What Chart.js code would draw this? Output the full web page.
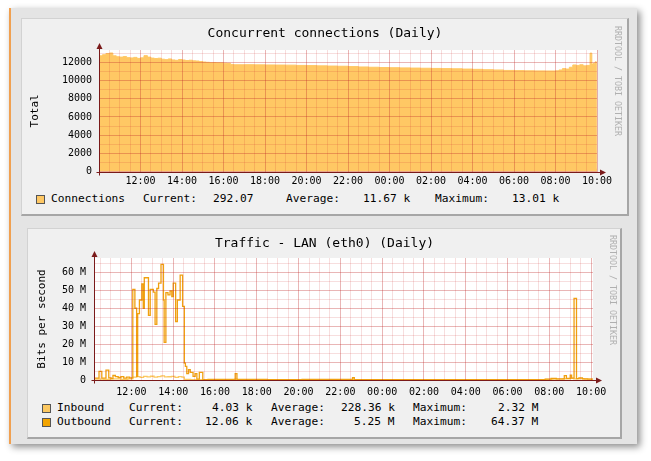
<!DOCTYPE html>
<html>
<head>
<meta charset="utf-8">
<title>Daily graphs</title>
<script src="https://cdn.jsdelivr.net/npm/chart.js@4.4.0/dist/chart.umd.min.js"></script>
<style>
body { margin:0; background:#fff; width:651px; height:461px; position:relative; overflow:hidden; font-family:'DejaVu Sans Mono', monospace; }
#frame { position:absolute; left:9px; top:8px; width:626px; height:436px; background:#e4e4e4; border-left:2px solid #f0a050; box-shadow:3px 3px 7px rgba(0,0,0,0.45); }
.panel { position:absolute; background:#f0f0f0; box-sizing:border-box; border-top:1px solid #d2d2d2; border-left:1px solid #d2d2d2; border-right:2px solid #a6a6a6; border-bottom:2px solid #a6a6a6; }
canvas { position:absolute; }
.lg { position:absolute; font-size:11.2px; line-height:14px; white-space:pre; color:#000; }
.sw { position:absolute; width:9px; height:9px; border:1px solid #555; box-sizing:border-box; }
.credit { position:absolute; writing-mode:vertical-rl; font-size:8.3px; color:#b0b0b0; white-space:nowrap; }
</style>
</head>
<body>
<div id="frame"></div>

<div class="panel" style="left:21px; top:18px; width:608px; height:198px;"></div>
<canvas id="connChart" width="608" height="170" style="left:21px; top:18px;"></canvas>
<div class="credit" style="left:613px; top:26px;">RRDTOOL / TOBI OETIKER</div>
<div class="sw" style="left:36px; top:195px; background:#ffc864;"></div>
<div class="lg" style="left:51px; top:192px;">Connections</div>
<div class="lg" style="left:143px; top:192px;">Current:</div>
<div class="lg" style="left:213px; top:192px;">292.07</div>
<div class="lg" style="left:286px; top:192px;">Average:</div>
<div class="lg" style="left:363px; top:192px;">11.67 k</div>
<div class="lg" style="left:435px; top:192px;">Maximum:</div>
<div class="lg" style="left:512px; top:192px;">13.01 k</div>

<div class="panel" style="left:27px; top:228px; width:595px; height:211px;"></div>
<canvas id="trafChart" width="595" height="170" style="left:27px; top:228px;"></canvas>
<div class="credit" style="left:608px; top:235px;">RRDTOOL / TOBI OETIKER</div>
<div class="sw" style="left:42px; top:404px; background:#fcc860;"></div>
<div class="lg" style="left:57px; top:401px;">Inbound</div>
<div class="lg" style="left:129px; top:401px;">Current:</div>
<div class="lg" style="left:212px; top:401px;">4.03 k</div>
<div class="lg" style="left:271px; top:401px;">Average:</div>
<div class="lg" style="left:341px; top:401px;">228.36 k</div>
<div class="lg" style="left:413px; top:401px;">Maximum:</div>
<div class="lg" style="left:498px; top:401px;">2.32 M</div>
<div class="sw" style="left:42px; top:418px; background:#f2a400;"></div>
<div class="lg" style="left:57px; top:415px;">Outbound</div>
<div class="lg" style="left:129px; top:415px;">Current:</div>
<div class="lg" style="left:205px; top:415px;">12.06 k</div>
<div class="lg" style="left:271px; top:415px;">Average:</div>
<div class="lg" style="left:354px; top:415px;">5.25 M</div>
<div class="lg" style="left:413px; top:415px;">Maximum:</div>
<div class="lg" style="left:491px; top:415px;">64.37 M</div>

<script>
// concurrent connections
const connTimes = [
    '10:00','10:10','10:20','10:30','10:40','10:50','11:00','11:10','11:20','11:30','11:40','11:50',
    '12:00','12:10','12:20','12:30','12:40','12:50','13:00','13:10','13:20','13:30','13:40','13:50',
    '14:00','14:10','14:20','14:30','14:40','14:50','15:00','15:10','15:20','15:30','15:40','15:50',
    '16:00','16:10','16:20','16:30','17:00','17:30','18:00','18:30','19:00','19:30','20:00','20:30',
    '21:00','21:30','22:00','22:30','23:00','23:30','00:00','00:30','01:00','01:30','02:00','02:30',
    '03:00','03:30','04:00','04:30','05:00','05:30','06:00','06:30','07:00','07:30','08:00','08:10',
    '08:20','08:30','08:40','08:50','09:00','09:10','09:20','09:30','09:40','09:45','09:50','09:55',
    '09:58','10:00'
];
const connValues = [
    12700, 12820, 12950, 13010, 12700, 12600, 12560, 12620, 12500, 12470, 12530, 12420,
    12480, 12720, 12560, 12450, 12400, 12440, 12330, 12280, 12360, 12250, 12210, 12300,
    12240, 12180, 12220, 12150, 12130, 12070, 12020, 11990, 11950, 11960, 11940, 11930,
    11900, 11880, 11760, 11720, 11730, 11710, 11700, 11690, 11680, 11650, 11630, 11600,
    11580, 11560, 11520, 11480, 11450, 11420, 11400, 11380, 11360, 11340, 11320, 11300,
    11280, 11250, 11220, 11180, 11150, 11100, 11080, 11060, 11050, 11040, 11060, 11150,
    11300, 11250, 11450, 11700, 11650, 11720, 11600, 11650, 13000, 11800, 11900, 12050,
    292, 292
];
const connYTicks = [0, 1000, 2000, 3000, 4000, 5000, 6000, 7000, 8000, 9000, 10000, 11000, 12000, 13000];

// traffic, in M bits per second
const outTimes = [
    '10:13','10:27','10:35','10:47','10:55','11:02','11:07','11:14','11:22','11:30','11:38','11:46',
    '11:55','12:04','12:10','12:15','12:18','12:23','12:30','12:34','12:37','12:49','12:54','13:03',
    '13:08','13:13','13:18','13:25','13:32','13:34','13:39','13:45','13:51','13:56','14:00','14:07',
    '14:12','14:20','14:27','14:32','14:35','14:39','14:44','14:49','14:57','15:03','15:08','15:15',
    '15:25','15:40','16:20','16:58','17:03','18:30','20:10','22:35','22:40','00:30','03:00','06:00',
    '07:48','08:05','08:20','08:43','08:49','09:00','09:04','09:11','09:18','09:25','09:35','09:50',
    '10:05'
];
const outValues = [
    1.0, 4.8, 1.0, 5.5, 1.2, 0.8, 2.5, 1.9, 1.4, 1.9, 1.1, 1.6,
    1.2, 50.5, 40, 2, 37, 44.6, 53.5, 40, 57, 36, 50.5, 49,
    31, 51, 54, 64.4, 44.6, 21, 48.7, 47.4, 49.6, 46.5, 54, 32.6,
    44.6, 58.5, 41, 9.4, 7.6, 3.5, 5.7, 4.3, 2.0, 3.5, 0.5, 4.3,
    0.2, 0.4, 0.3, 3.5, 0.3, 0.2, 0.3, 1.3, 0.2, 0.2, 0.2, 0.2,
    0.5, 0.9, 0.6, 2.4, 0.9, 2.7, 1.0, 45.5, 0.8, 1.2, 0.6, 0.5,
    0.5
];
const inTimes = [
    '10:13','10:40','11:00','11:30','11:50','12:04','12:15','12:25','12:35','12:45','12:55','13:05',
    '13:15','13:25','13:35','13:45','13:55','14:05','14:15','14:25','14:32','14:50','15:30','16:58',
    '17:03','22:35','22:40','07:50','08:10','08:40','09:00','09:10','09:20','09:40','10:05'
];
const inValues = [
    0.5, 0.3, 0.6, 0.4, 0.7, 1.6, 1.9, 1.5, 2.0, 1.7, 2.1, 1.6,
    1.9, 2.3, 1.7, 1.8, 2.0, 1.5, 1.9, 1.6, 0.4, 0.2, 0.1, 0.6,
    0.1, 0.5, 0.1, 0.3, 0.5, 0.7, 0.9, 0.6, 0.8, 0.5, 0.5
];
const trafYTicks = [0, 5, 10, 15, 20, 25, 30, 35, 40, 45, 50, 55, 60, 65];

const MONO = 'DejaVu Sans Mono';
const AXIS_COLOR = '#7a1a1a';
const GRID_MINOR = 'rgba(205, 50, 50, 0.16)';
const GRID_MAJOR = 'rgba(190, 40, 40, 0.34)';

// "HH:MM" -> hours, runs over midnight into the next day
function toHours(times)
{
    let prev = 0;
    return times.map(function (t) {
        const parts = t.split(':');
        let h = Number(parts[0]) + Number(parts[1]) / 60;
        while (h < prev) h += 24;
        prev = h;
        return h;
    });
}

function toPoints(times, values)
{
    const hours = toHours(times);
    return values.map(function (v, i) { return { x: hours[i], y: v }; });
}

function isEvenHour(v)
{
    return Math.abs(v / 2 - Math.round(v / 2)) < 1e-6;
}

function hourLabel(v)
{
    const h = Math.round(v) % 24;
    return (h < 10 ? '0' : '') + h + ':00';
}

const plotBackground = {
    id: 'plotBackground',
    beforeDraw(chart) {
        const a = chart.chartArea;
        const ctx = chart.ctx;
        ctx.save();
        ctx.fillStyle = '#ffffff';
        ctx.fillRect(a.left, a.top, a.right - a.left, a.bottom - a.top);
        ctx.restore();
    }
};

// rrdtool style axes with arrow heads
const arrowAxes = {
    id: 'arrowAxes',
    afterDraw(chart) {
        const a = chart.chartArea;
        const ctx = chart.ctx;
        const x0 = Math.round(a.left) + 0.5;
        const y0 = Math.round(a.bottom) + 0.5;
        ctx.save();
        ctx.strokeStyle = AXIS_COLOR;
        ctx.fillStyle = AXIS_COLOR;
        ctx.lineWidth = 1;
        ctx.beginPath();
        ctx.moveTo(x0, y0 + 3);
        ctx.lineTo(x0, a.top - 3);
        ctx.moveTo(x0 - 3, y0);
        ctx.lineTo(a.right + 4, y0);
        ctx.stroke();
        ctx.beginPath();
        ctx.moveTo(x0, a.top - 7);
        ctx.lineTo(x0 - 3, a.top - 1);
        ctx.lineTo(x0 + 3, a.top - 1);
        ctx.closePath();
        ctx.fill();
        ctx.beginPath();
        ctx.moveTo(a.right + 9, y0);
        ctx.lineTo(a.right + 3, y0 - 3);
        ctx.lineTo(a.right + 3, y0 + 3);
        ctx.closePath();
        ctx.fill();
        ctx.restore();
    }
};

// the same padding on both sides keeps the title centred on the canvas
function makeOptions(cfg)
{
    return {
        responsive: false,
        animation: false,
        devicePixelRatio: 1,
        layout: { padding: { left: cfg.padSide, right: cfg.padSide, top: 0, bottom: 0 } },
        plugins: {
            legend: { display: false },
            tooltip: { enabled: false },
            title: {
                display: true,
                text: cfg.title,
                color: '#000',
                font: { family: MONO, size: 13, weight: 'normal' },
                padding: { top: cfg.titleTop, bottom: cfg.titleBottom }
            }
        },
        elements: { point: { radius: 0 }, line: { tension: 0 } },
        scales: {
            x: {
                type: 'linear',
                min: cfg.xMin,
                max: cfg.xMax,
                afterFit: function (scale) { scale.height = cfg.xHeight; },
                border: { display: false },
                grid: {
                    z: 1,
                    drawTicks: false,
                    color: function (c) { return isEvenHour(c.tick.value) ? GRID_MAJOR : GRID_MINOR; }
                },
                ticks: {
                    stepSize: 0.5,
                    includeBounds: false,
                    autoSkip: false,
                    maxRotation: 0,
                    padding: cfg.xPad,
                    color: '#000',
                    font: { family: MONO, size: 10 },
                    callback: function (v) {
                        if (v <= cfg.xMin + 0.01 || !isEvenHour(v)) return '';
                        return hourLabel(v);
                    }
                }
            },
            y: {
                type: 'linear',
                min: 0,
                max: cfg.yMax,
                afterBuildTicks: function (scale) {
                    scale.ticks = cfg.yTicks.map(function (v) { return { value: v }; });
                },
                afterFit: function (scale) { scale.width = cfg.yWidth - cfg.padSide; },
                border: { display: false },
                grid: {
                    z: 1,
                    drawTicks: false,
                    color: function (c) { return cfg.yLabel(c.tick.value) ? GRID_MAJOR : GRID_MINOR; }
                },
                title: {
                    display: true,
                    text: cfg.yTitle,
                    color: '#000',
                    font: { family: MONO, size: 11 },
                    padding: { top: cfg.yTitleX - cfg.padSide - 6.6, bottom: 0 }
                },
                ticks: {
                    autoSkip: false,
                    padding: cfg.yPad,
                    color: '#000',
                    font: { family: MONO, size: 10 },
                    callback: function (v) { return cfg.yLabel(v); }
                }
            }
        }
    };
}

new Chart(document.getElementById('connChart'), {
    type: 'line',
    data: {
        datasets: [{
            label: 'Connections',
            data: toPoints(connTimes, connValues),
            stepped: true,
            fill: 'origin',
            backgroundColor: '#ffc864',
            borderColor: '#ffc864',
            borderWidth: 1
        }]
    },
    options: makeOptions({
        title: 'Concurrent connections (Daily)',
        titleTop: 8, titleBottom: 8.4,
        padSide: 32,
        xMin: 10, xMax: 34, xHeight: 16.3, xPad: 4,
        yMax: 13340, yTicks: connYTicks, yWidth: 78, yPad: 7,
        yTitle: 'Total', yTitleX: 14,
        yLabel: function (v) { return Math.round(v) % 2000 === 0 ? String(Math.round(v)) : ''; }
    }),
    plugins: [plotBackground, arrowAxes]
});

new Chart(document.getElementById('trafChart'), {
    type: 'line',
    data: {
        datasets: [{
            label: 'Outbound',
            data: toPoints(outTimes, outValues),
            stepped: true,
            fill: false,
            borderColor: '#f0a010',
            borderWidth: 1.3
        }, {
            label: 'Inbound',
            data: toPoints(inTimes, inValues),
            stepped: true,
            fill: false,
            borderColor: '#fcc860',
            borderWidth: 1.3
        }]
    },
    options: makeOptions({
        title: 'Traffic - LAN (eth0) (Daily)',
        titleTop: 8.2, titleBottom: 6.2,
        padSide: 29,
        xMin: 10.21, xMax: 34.09, xHeight: 18, xPad: 6,
        yMax: 68, yTicks: trafYTicks, yWidth: 67, yPad: 8,
        yTitle: 'Bits per second', yTitleX: 14.7,
        yLabel: function (v) {
            if (v === 0) return '0';
            return v % 10 === 0 ? v + ' M' : '';
        }
    }),
    plugins: [plotBackground, arrowAxes]
});
</script>
</body>
</html>
